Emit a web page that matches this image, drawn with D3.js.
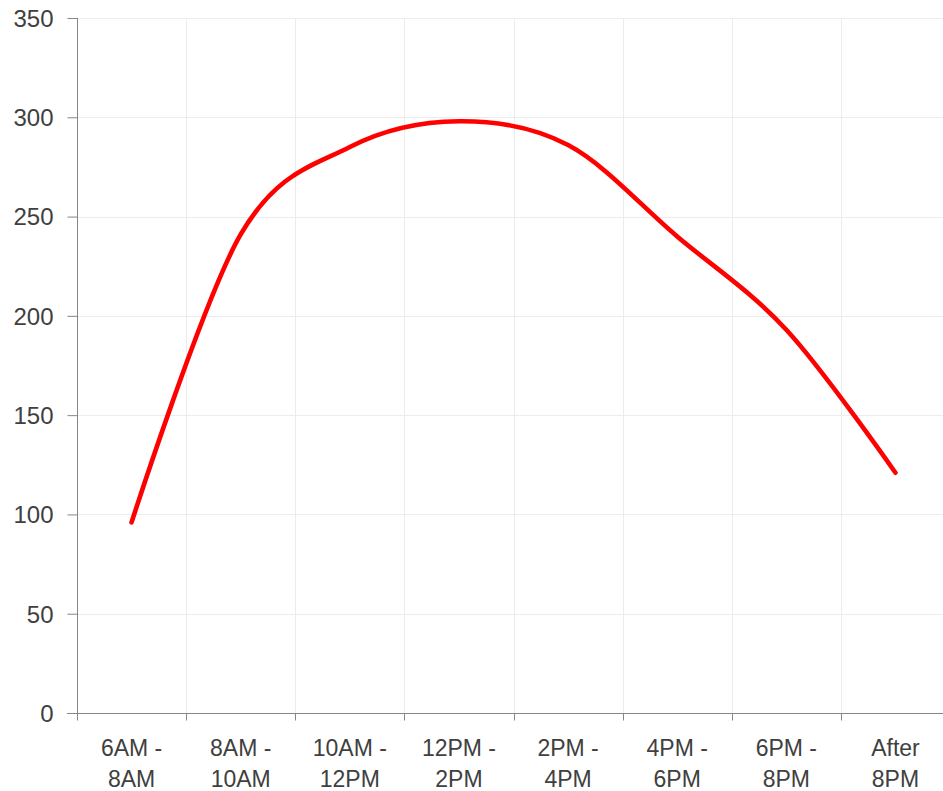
<!DOCTYPE html>
<html>
<head>
<meta charset="utf-8">
<script src="https://cdn.jsdelivr.net/npm/d3@7"></script>
<style>
  body { margin: 0; background: #fff; overflow: hidden; }
  svg { display: block; }
  .grid-line { stroke: #ececec; stroke-width: 1; }
  .tick text { font-family: "Liberation Sans", Arial, sans-serif; font-size: 24px; fill: #404040; }
</style>
</head>
<body>
<svg id="chart"></svg>
<script>
// данные графика
let categories = ["6AM - 8AM", "8AM - 10AM", "10AM - 12PM", "12PM - 2PM", "2PM - 4PM", "4PM - 6PM", "6PM - 8PM", "After 8PM"];
let values = [96, 241, 285, 298, 286, 240, 193, 121];
let yTicks = [0, 50, 100, 150, 200, 250, 300, 350];

let width = 943;
let height = 791;
let plotLeft = 77, plotRight = 950, plotTop = 18, plotBottom = 713;

let svg = d3.select("#chart")
	.attr("width", width)
	.attr("height", height);

let scaleX = d3.scaleBand()
	.domain(categories)
	.range([plotLeft, plotRight]);
let scaleY = d3.scaleLinear()
	.domain([0, 350])
	.range([plotBottom, plotTop]);

// горизонтальная сетка
svg.append("g")
	.selectAll("line")
	.data(yTicks.filter(d => d > 0))
	.enter()
	.append("line")
	.classed("grid-line", true)
	.attr("x1", plotLeft)
	.attr("x2", plotRight)
	.attr("y1", d => Math.round(scaleY(d)) + 0.5)
	.attr("y2", d => Math.round(scaleY(d)) + 0.5);

// вертикальная сетка по границам категорий
svg.append("g")
	.selectAll("line")
	.data(categories.slice(1))
	.enter()
	.append("line")
	.classed("grid-line", true)
	.attr("x1", d => Math.round(scaleX(d)) + 0.5)
	.attr("x2", d => Math.round(scaleX(d)) + 0.5)
	.attr("y1", plotTop)
	.attr("y2", plotBottom);

// ось OY
let axisY = d3.axisLeft(scaleY)
	.tickValues(yTicks)
	.tickSize(10)
	.tickPadding(14);
let gy = svg.append("g")
	.attr("transform", "translate(" + (plotLeft + 0.5) + ",0)")
	.call(axisY);
gy.select(".domain").attr("stroke", "#868686").attr("d", "M0," + plotTop + "V" + plotBottom);
gy.selectAll(".tick line").attr("stroke", "#868686");
gy.selectAll(".tick text").attr("dy", "0.35em");

// ось OX: деления на границах категорий, подписи в две строки
let gx = svg.append("g")
	.attr("transform", "translate(0," + (plotBottom + 0.5) + ")");
gx.append("line")
	.attr("x1", plotLeft - 10)
	.attr("x2", plotRight)
	.attr("stroke", "#868686");
let bounds = categories.map(d => scaleX(d)).concat([plotRight]);
gx.selectAll(".xt")
	.data(bounds)
	.enter()
	.append("line")
	.attr("x1", d => Math.round(d) + 0.5)
	.attr("x2", d => Math.round(d) + 0.5)
	.attr("y1", 0)
	.attr("y2", 7)
	.attr("stroke", "#868686");
let labels = gx.selectAll(".xl")
	.data(categories)
	.enter()
	.append("text")
	.attr("text-anchor", "middle")
	.attr("font-family", "Liberation Sans, Arial, sans-serif")
	.attr("font-size", "23px")
	.attr("fill", "#404040")
	.attr("transform", d => "translate(" + (scaleX(d) + scaleX.bandwidth() / 2) + ",0)");
labels.each(function(d) {
	let parts = d.indexOf(" - ") > 0 ? [d.split(" - ")[0] + " -", d.split(" - ")[1]] : d.split(" ");
	let t = d3.select(this);
	parts.forEach((p, i) => {
		t.append("tspan").attr("x", 0).attr("y", 42 + i * 31).text(p);
	});
});

// сглаженная линия
let line = d3.line()
	.x((d, i) => scaleX(categories[i]) + scaleX.bandwidth() / 2)
	.y(d => scaleY(d))
	.curve(d3.curveCardinal.tension(0));
svg.append("path")
	.datum(values)
	.attr("d", line)
	.attr("fill", "none")
	.attr("stroke", "#ff0000")
	.attr("stroke-width", 4.6)
	.attr("stroke-linecap", "round")
	.attr("stroke-linejoin", "round");
</script>
</body>
</html>
